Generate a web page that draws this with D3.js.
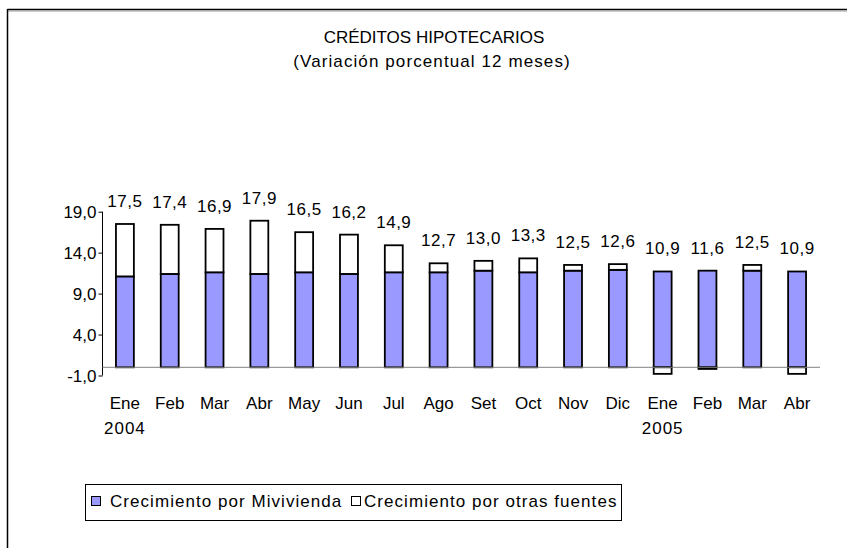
<!DOCTYPE html>
<html><head><meta charset="utf-8">
<script src="https://cdn.jsdelivr.net/npm/d3@7"></script>
<style>body{margin:0;background:#fff}svg{display:block}text{font-family:"Liberation Sans",Arial,sans-serif;fill:#000}</style>
</head><body>
<svg id="c" width="847" height="548"></svg>
<script>
const months = ["Ene","Feb","Mar","Abr","May","Jun","Jul","Ago","Set","Oct","Nov","Dic","Ene","Feb","Mar","Abr"];
const years = ["2004","","","","","","","","","","","","2005","","",""];
const mivivienda = [11.1,11.4,11.6,11.4,11.6,11.4,11.6,11.6,11.8,11.6,11.8,11.9,11.7,11.8,11.8,11.7];
const otras = [6.4,6.0,5.3,6.5,4.9,4.8,3.3,1.1,1.2,1.7,0.7,0.7,-0.8,-0.2,0.7,-0.8];
const totals = ["17,5","17,4","16,9","17,9","16,5","16,2","14,9","12,7","13,0","13,3","12,5","12,6","10,9","11,6","12,5","10,9"];
const yTicks = [-1,4,9,14,19];
const seriesNames = ["Crecimiento por Mivivienda","Crecimiento por otras fuentes"];
const colors = ["#9999FF","#FFFFFF"];

const svg = d3.select("#c");
const fmt = v => d3.format(".1f")(v).replace(".", ",").replace("\u2212", "-");

// frame
svg.append("line").attr("x1",7.5).attr("x2",847).attr("y1",9.5).attr("y2",9.5).attr("stroke","#000").attr("stroke-width",1.5);
svg.append("line").attr("x1",8).attr("x2",847).attr("y1",11).attr("y2",11).attr("stroke","#999").attr("stroke-width",1);
svg.append("line").attr("x1",7.5).attr("x2",7.5).attr("y1",9).attr("y2",548).attr("stroke","#000").attr("stroke-width",1.5);

// titles
svg.append("text").attr("x",434).attr("y",43).attr("text-anchor","middle").attr("font-size",17).text("CRÉDITOS HIPOTECARIOS");
svg.append("text").attr("x",432).attr("y",67).attr("text-anchor","middle").attr("font-size",17).attr("letter-spacing","1.1px").text("(Variación porcentual 12 meses)");

const x = d3.scaleBand().domain(d3.range(months.length)).range([102.5,819.5]).paddingInner(0.6).paddingOuter(0.3);
const y = d3.scaleLinear().domain([-1,19]).range([375.5,211.7]);

// y axis
const yAxis = d3.axisLeft(y).tickValues(yTicks).tickSize(4).tickPadding(2).tickFormat(fmt);
const ga = svg.append("g").attr("transform","translate(102.5,0)").call(yAxis);
ga.select(".domain").attr("stroke","#000").attr("d",`M0,${y(19)}V${y(-1)}`);
ga.selectAll(".tick line").attr("stroke","#000");
ga.selectAll(".tick text").attr("font-size",17).attr("font-family","Liberation Sans, Arial, sans-serif").attr("fill","#000").attr("dy","0.35em");

// bars
const g = svg.append("g");
months.forEach((m,i)=>{
  const bx = x(i), bw = x.bandwidth();
  const mv = mivivienda[i], ot = otras[i];
  g.append("rect").attr("x",bx).attr("width",bw).attr("y",y(mv)).attr("height",y(0)-y(mv))
    .attr("fill",colors[0]).attr("stroke","#000").attr("stroke-width",1.8);
  if (ot >= 0) {
    g.append("rect").attr("x",bx).attr("width",bw).attr("y",y(mv+ot)).attr("height",y(mv)-y(mv+ot))
      .attr("fill",colors[1]).attr("stroke","#000").attr("stroke-width",1.8);
  } else {
    g.append("rect").attr("x",bx).attr("width",bw).attr("y",y(0)).attr("height",y(ot)-y(0))
      .attr("fill",colors[1]).attr("stroke","#000").attr("stroke-width",1.8);
  }
  const top = Math.max(mv, mv + ot);
  g.append("text").attr("x",bx+bw/2).attr("y",y(top)-17).attr("text-anchor","middle")
    .attr("font-size",17).attr("letter-spacing","0.5px").text(totals[i]);
  g.append("text").attr("x",bx+bw/2).attr("y",409).attr("text-anchor","middle").attr("font-size",17).text(m);
  if (years[i]) g.append("text").attr("x",bx+bw/2).attr("y",434).attr("text-anchor","middle").attr("font-size",17).attr("letter-spacing","1px").text(years[i]);
});
// zero line
svg.append("line").attr("x1",102.5).attr("x2",820).attr("y1",y(0)).attr("y2",y(0)).attr("stroke","#808080").attr("stroke-width",1);

// legend
const lg = svg.append("g");
lg.append("rect").attr("x",85.5).attr("y",484.5).attr("width",536).attr("height",36).attr("fill","#fff").attr("stroke","#000").attr("stroke-width",1);
const lx = [91.5,351.5], tx = [110,364];
seriesNames.forEach((n,i)=>{
  lg.append("rect").attr("x",lx[i]).attr("y",496.5).attr("width",9).attr("height",9).attr("fill",colors[i]).attr("stroke","#000").attr("stroke-width",1);
  lg.append("text").attr("x",tx[i]).attr("y",507).attr("font-size",17).attr("letter-spacing","1.05px").text(n);
});
</script>
</body></html>
